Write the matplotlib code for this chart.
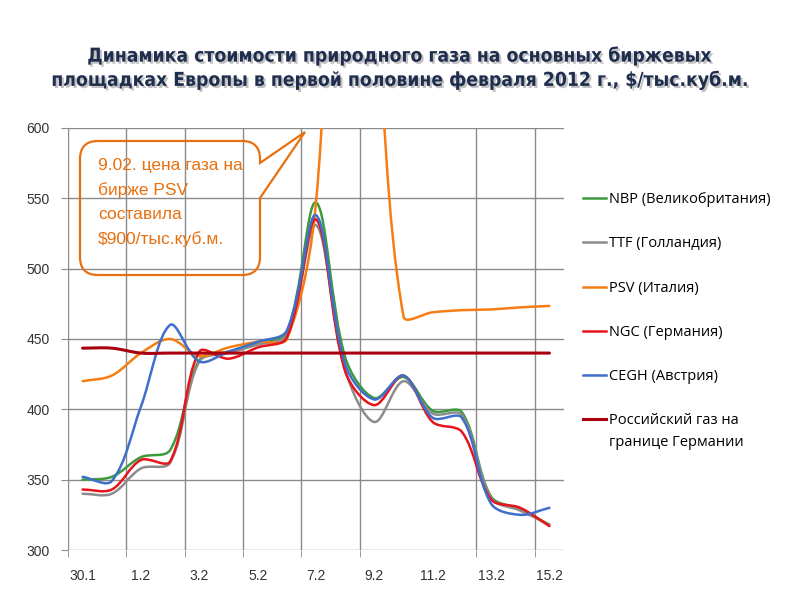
import numpy as np
import matplotlib
matplotlib.use('Agg')
import matplotlib.pyplot as plt
import matplotlib.patheffects as pe
import matplotlib.font_manager as fm
from matplotlib.path import Path
from matplotlib.patches import PathPatch
from matplotlib.lines import Line2D

# daily prices, 30.1 .. 15.2 (2012), $/thousand m3
days = ['30.1', '31.1', '1.2', '2.2', '3.2', '4.2', '5.2', '6.2', '7.2',
        '8.2', '9.2', '10.2', '11.2', '12.2', '13.2', '14.2', '15.2']
nbp = [350, 352, 366, 371, 435, 441, 447, 455, 547, 437, 408, 423, 399, 398, 338, 329, 318]
ttf = [340, 340, 358, 362, 434, 440, 446, 453, 531, 428, 391, 420, 397, 396, 337, 328, 318]
psv = [420, 424, 440, 450, 438, 444, 448, 450, 547, 900, 700, 466, 469, 470.5, 471, 472.5, 473.5]
ngc = [343, 343, 364, 363, 441, 436, 444, 451, 535, 427, 403, 424, 391, 384, 336, 330, 317]
cegh = [352, 349, 402, 460, 434, 441, 448, 456, 538, 432, 407, 424, 394, 394, 333, 325, 330]
rus = [443.5, 443.5, 440, 440, 440, 440, 440, 440, 440, 440, 440, 440, 440, 440, 440, 440, 440]

series = [
    ('NBP (Великобритания)', nbp, '#3d9a3d', 1.8),
    ('TTF (Голландия)', ttf, '#8c8c8c', 1.8),
    ('PSV (Италия)', psv, '#f57d14', 1.8),
    ('NGC (Германия)', ngc, '#e8141c', 1.8),
    ('CEGH (Австрия)', cegh, '#3f6fca', 1.8),
    ('Российский газ на', rus, '#a8000f', 2.2),
]
rus_label2 = 'границе Германии'

plt.rcParams['font.family'] = ['Open Sans', 'DejaVu Sans']


def narrow_bold():
    # look for some condensed bold face for the title
    prefs = ['Liberation Sans Narrow', 'DejaVu Sans', 'Noto Sans', 'Roboto Condensed',
             'Roboto', 'Open Sans', 'Open Sans Condensed']
    found = []
    for f in fm.fontManager.ttflist:
        w = f.weight if isinstance(f.weight, int) else (700 if 'bold' in str(f.weight).lower() else 400)
        narrow = ('Narrow' in f.name or 'Condensed' in f.name or
                  str(f.stretch) in ('condensed', 'semi-condensed', 'extra-condensed') or
                  'Condensed' in f.fname or 'Narrow' in f.fname)
        if narrow and w >= 600 and f.style == 'normal':
            rank = prefs.index(f.name) if f.name in prefs else len(prefs)
            found.append((rank, 'Extra' in f.fname or 'Semi' in f.fname, f.fname))
    if found:
        found.sort()
        return fm.FontProperties(fname=found[0][2])
    return fm.FontProperties(family='Liberation Sans', weight='bold')


fig = plt.figure(figsize=(8, 6), dpi=100)
ax = fig.add_axes([68 / 800, 50 / 600, 496 / 800, 422 / 600])
x = np.arange(len(days))
ax.set_xlim(-0.5, len(days) - 0.5)
ax.set_ylim(300, 600)

# pixels per unit, used for excel-like smoothing
sx = 496 / len(days)
sy = 422 / 300.0


def smooth_path(xs, ys):
    p = np.column_stack([np.asarray(xs, float) * sx, np.asarray(ys, float) * sy])
    n = len(p)
    verts = [p[0]]
    codes = [Path.MOVETO]
    for i in range(n - 1):
        p0 = p[i - 1] if i > 0 else p[i]
        p1 = p[i]
        p2 = p[i + 1]
        p3 = p[i + 2] if i + 2 < n else p[i + 1]
        d01 = np.hypot(*(p1 - p0))
        d12 = np.hypot(*(p2 - p1))
        d23 = np.hypot(*(p3 - p2))
        c1 = p1 + (p2 - p0) * (d12 / (d01 + d12)) / 3
        c2 = p2 - (p3 - p1) * (d12 / (d12 + d23)) / 3
        verts += [c1, c2, p2]
        codes += [Path.CURVE4] * 3
    verts = np.array(verts) / [sx, sy]
    return Path(verts, codes)


handles = []
for name, vals, col, lw in series:
    patch = PathPatch(smooth_path(x, vals), fill=False, edgecolor=col, lw=lw,
                      capstyle='round', joinstyle='round')
    ax.add_patch(patch)
    handles.append(Line2D([], [], color=col, lw=lw, label=name))

# grid
grid_col = '#8a8a8a'
ax.set_yticks(np.arange(300, 601, 50))
ax.set_xticks(x[::2])
ax.set_xticklabels(days[::2])
ax.set_xticks([-0.5, 1.5, 3.5, 5.5, 7.5, 9.5, 13.5, 15.5], minor=True)
ax.grid(True, axis='y', color=grid_col, lw=1)
ax.grid(True, axis='x', which='minor', color=grid_col, lw=1)
ax.set_axisbelow(True)
for s in ax.spines.values():
    s.set_visible(False)
ax.tick_params(axis='y', length=5, color=grid_col, pad=8, labelsize=10, labelcolor='#333333')
ax.tick_params(axis='x', which='major', length=0, pad=14, labelsize=10, labelcolor='#333333')
ax.tick_params(axis='x', which='minor', length=5, color=grid_col)
for lab in ax.get_xticklabels() + ax.get_yticklabels():
    lab.set_family(['Liberation Sans Narrow', 'Liberation Sans', 'DejaVu Sans'])

leg = ax.legend(handles=handles, loc='upper left', bbox_to_anchor=(576 / 800, 1 - 185 / 600),
                bbox_transform=fig.transFigure, frameon=False, fontsize=10.5,
                handlelength=1.55, handletextpad=0.2, labelspacing=2.0, borderpad=0)

# title
title = ('Динамика стоимости природного газа на основных биржевых\n'
         'площадках Европы в первой половине февраля 2012 г., $/тыс.куб.м.')
tfp = narrow_bold()
tfp.set_size(19)
ttl = fig.text(0.5, 1 - 68 / 600, title, ha='center', va='center', fontproperties=tfp,
               color='#1f2d4e', linespacing=1.3,
               path_effects=[pe.SimplePatchShadow(offset=(1.5, -1.5), shadow_rgbFace='#999999', alpha=0.6),
                             pe.Normal()])
# fit the title width to the slide (widest line ~696 px)
fig.canvas.draw()
w = ttl.get_window_extent().width
if w > 700:
    tfp.set_size(19 * 696 / w)
    ttl.set_fontproperties(tfp)

# second line of the last legend label, under the first one
fig.canvas.draw()
bb = leg.get_texts()[-1].get_window_extent()
fig.text(bb.x0 / 800, (bb.y0 - 7) / 600, rus_label2, ha='left', va='top',
         fontsize=10.5, color='black')

# callout box (figure pixel coords)
oc = '#e8700f'
L, R, T, B, r = 80, 260, 141, 275, 18
pts = [(L + r, T), (R - r, T), (R, T), (R, T + r), (R, 163), (305, 132), (R, 198),
       (R, B - r), (R, B), (R - r, B), (L + r, B), (L, B), (L, B - r), (L, T + r), (L, T), (L + r, T)]
cd = [Path.MOVETO, Path.LINETO, Path.CURVE3, Path.CURVE3, Path.LINETO, Path.LINETO, Path.LINETO,
      Path.LINETO, Path.CURVE3, Path.CURVE3, Path.LINETO, Path.CURVE3, Path.CURVE3, Path.LINETO,
      Path.CURVE3, Path.CURVE3]
pts = [(px / 800, 1 - py / 600) for px, py in pts]
fig.add_artist(PathPatch(Path(pts, cd), fill=False, edgecolor=oc, lw=1.6,
                         transform=fig.transFigure))
fig.text(98 / 800, 1 - 158 / 600, '9.02. цена газа на\nбирже PSV\nсоставила\n$900/тыс.куб.м.',
         ha='left', va='top', fontsize=12.5, color=oc, linespacing=1.72,
         family=['Liberation Sans', 'DejaVu Sans'])

fig.savefig('out.png', dpi=100)
